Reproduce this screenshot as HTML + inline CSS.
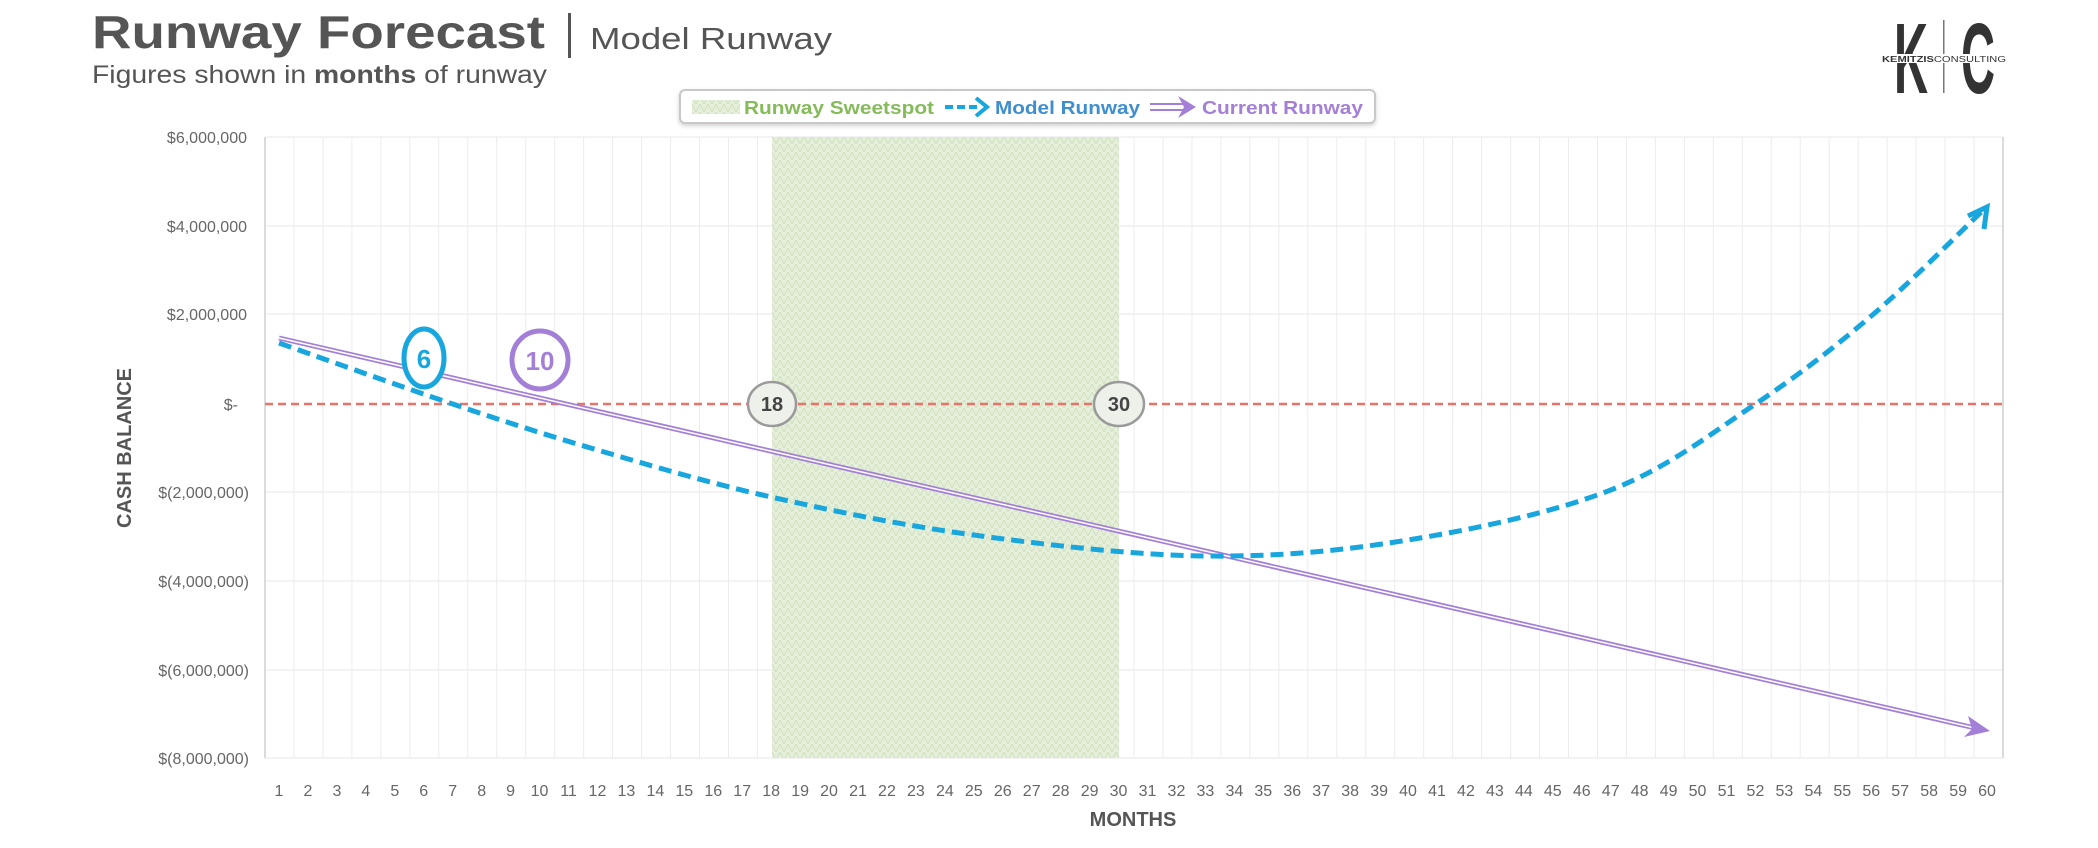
<!DOCTYPE html>
<html><head><meta charset="utf-8"><style>
html,body{margin:0;padding:0;background:#fff;}
svg{display:block;font-family:"Liberation Sans",sans-serif;}
</style></head><body>
<svg id="s" width="2098" height="848" viewBox="0 0 2098 848" xmlns="http://www.w3.org/2000/svg">
<defs>
<pattern id="hatch" width="8" height="8" patternUnits="userSpaceOnUse">
<rect width="8" height="8" fill="#e6efdb"/>
<path d="M0 8 L4 0 L8 8" fill="none" stroke="#d2e3bf" stroke-width="1.2"/>
</pattern>
<filter id="sh" x="-5%" y="-20%" width="110%" height="160%"><feDropShadow dx="0" dy="2" stdDeviation="2" flood-color="#000" flood-opacity="0.18"/></filter>
</defs>
<g id="grid"></g>
<rect x="772" y="137" width="347" height="621" fill="url(#hatch)"/>
<line x1="265" y1="137" x2="265" y2="758" stroke="#cfcfcf" stroke-width="1.5"/>
<line x1="2003" y1="137" x2="2003" y2="758" stroke="#cfcfcf" stroke-width="1.5"/>
<line x1="265" y1="404" x2="2003" y2="404" stroke="#e8736b" stroke-width="2.5" stroke-dasharray="8,5"/>
<g id="series"></g>
<ellipse cx="424" cy="358" rx="20" ry="29" fill="#fff" stroke="#17a6de" stroke-width="5"/>
<text x="424" y="368" text-anchor="middle" font-size="26" font-weight="bold" fill="#17a6de">6</text>
<ellipse cx="540" cy="360" rx="28" ry="29" fill="#fff" stroke="#a47fd8" stroke-width="5"/>
<text x="540" y="370" text-anchor="middle" font-size="26" font-weight="bold" fill="#a47fd8">10</text>
<ellipse cx="772" cy="404" rx="24" ry="22" fill="#eef1ea" stroke="#9a9a9a" stroke-width="2.5"/>
<text x="772" y="411" text-anchor="middle" font-size="20" font-weight="bold" fill="#444">18</text>
<ellipse cx="1119" cy="404" rx="25" ry="22" fill="#eef1ea" stroke="#9a9a9a" stroke-width="2.5"/>
<text x="1119" y="411" text-anchor="middle" font-size="20" font-weight="bold" fill="#444">30</text>
<g font-size="16" fill="#666" text-anchor="end">
<text x="247" y="143">$6,000,000</text>
<text x="247" y="232">$4,000,000</text>
<text x="247" y="320">$2,000,000</text>
<text x="238" y="410">$-</text>
<text x="249" y="498">$(2,000,000)</text>
<text x="249" y="587">$(4,000,000)</text>
<text x="249" y="676">$(6,000,000)</text>
<text x="249" y="764">$(8,000,000)</text>
</g>
<g id="xl" font-size="16" fill="#666" text-anchor="middle"></g>
<text transform="translate(131,448) rotate(-90)" text-anchor="middle" font-size="20" font-weight="bold" fill="#555">CASH BALANCE</text>
<text x="1133" y="826" text-anchor="middle" font-size="20" font-weight="bold" fill="#555">MONTHS</text>
<text x="92" y="48" font-size="46" font-weight="bold" fill="#555" textLength="453" lengthAdjust="spacingAndGlyphs">Runway Forecast</text>
<rect x="568" y="13" width="3" height="45" fill="#555"/>
<text x="590" y="49" font-size="31" fill="#555" textLength="242" lengthAdjust="spacingAndGlyphs">Model Runway</text>
<text x="92" y="83" font-size="25" fill="#555" textLength="455" lengthAdjust="spacingAndGlyphs">Figures shown in <tspan font-weight="bold">months</tspan> of runway</text>
<rect x="680" y="90" width="695" height="33" rx="5" fill="#fff" stroke="#c8c8c8" stroke-width="2" filter="url(#sh)"/>
<rect x="692" y="100" width="48" height="14" fill="url(#hatch)"/>
<text x="744" y="114" font-size="18" font-weight="bold" fill="#86bb5a" textLength="190" lengthAdjust="spacingAndGlyphs">Runway Sweetspot</text>
<line x1="945" y1="107" x2="980" y2="107" stroke="#17a6de" stroke-width="4" stroke-dasharray="8,4"/>
<path d="M976 98 L987 107 L976 116" fill="none" stroke="#17a6de" stroke-width="4"/>
<text x="995" y="114" font-size="18" font-weight="bold" fill="#3f8fcf" textLength="145" lengthAdjust="spacingAndGlyphs">Model Runway</text>
<line x1="1150" y1="104" x2="1183" y2="104" stroke="#a47fd8" stroke-width="2"/>
<line x1="1150" y1="110" x2="1183" y2="110" stroke="#a47fd8" stroke-width="2"/>
<path d="M1178 96 L1196 107 L1178 118 L1184 107 Z" fill="#a47fd8"/>
<text x="1202" y="114" font-size="18" font-weight="bold" fill="#a47fd8" textLength="161" lengthAdjust="spacingAndGlyphs">Current Runway</text>
<text x="1894" y="93" font-size="100" font-weight="bold" fill="#333" textLength="34" lengthAdjust="spacingAndGlyphs">K</text>
<text x="1961" y="93" font-size="100" font-weight="bold" fill="#333" textLength="34" lengthAdjust="spacingAndGlyphs">C</text>
<rect x="1943" y="20" width="1.5" height="73" fill="#777"/>
<rect x="1880" y="54" width="128" height="9" fill="#fff"/>
<text x="1882" y="62" font-size="8" fill="#333" textLength="124" lengthAdjust="spacingAndGlyphs"><tspan font-weight="bold">KEMITZIS</tspan>CONSULTING</text>
</svg>
<script>
var NS="http://www.w3.org/2000/svg";
function el(t,a,p){var e=document.createElementNS(NS,t);for(var k in a)e.setAttribute(k,a[k]);p.appendChild(e);return e;}
var g=document.getElementById('grid');
var step=(2003-265)/60;
for(var k=1;k<60;k++){var x=265+k*step;el('line',{x1:x,y1:137,x2:x,y2:758,stroke:'#ececec','stroke-width':1},g);}
[137,226,314,492,581,670,758].forEach(function(y){el('line',{x1:265,y1:y,x2:2003,y2:y,stroke:'#ececec','stroke-width':1.2},g);});
var xl=document.getElementById('xl');
function X(m){return 279+(m-1)*28.95;}
for(var m=1;m<=60;m++){var t=el('text',{x:X(m),y:796},xl);t.textContent=m;}
var s=document.getElementById('series');
el('line',{x1:X(1),y1:338,x2:1975,y2:728,stroke:'#a47fd8','stroke-width':5},s);
el('line',{x1:X(1),y1:338,x2:1975,y2:728,stroke:'#fff','stroke-width':1.5},s);
el('path',{d:'M1968 716 L1990 731 L1964 737 L1972 729 Z',fill:'#a47fd8'},s);
var P=[[1,343],[7,404],[12,450],[18,497],[25,535],[33,556],[40,540],[47,490],[52,404],[56,316],[59.8,212]];
P=P.map(function(p){return [X(p[0]),p[1]];});
var d='M'+P[0][0]+' '+P[0][1];
for(var i=0;i<P.length-1;i++){var p0=P[Math.max(0,i-1)],p1=P[i],p2=P[i+1],p3=P[Math.min(P.length-1,i+2)];
var c1=[p1[0]+(p2[0]-p0[0])/6,p1[1]+(p2[1]-p0[1])/6],c2=[p2[0]-(p3[0]-p1[0])/6,p2[1]-(p3[1]-p1[1])/6];
d+=' C'+c1+' '+c2+' '+p2;}
el('path',{d:d,fill:'none',stroke:'#17a6de','stroke-width':5,'stroke-dasharray':'13,7'},s);
el('path',{d:'M1968 216 L1987 207 L1984 229',fill:'none',stroke:'#17a6de','stroke-width':5},s);
</script>
</body></html>
